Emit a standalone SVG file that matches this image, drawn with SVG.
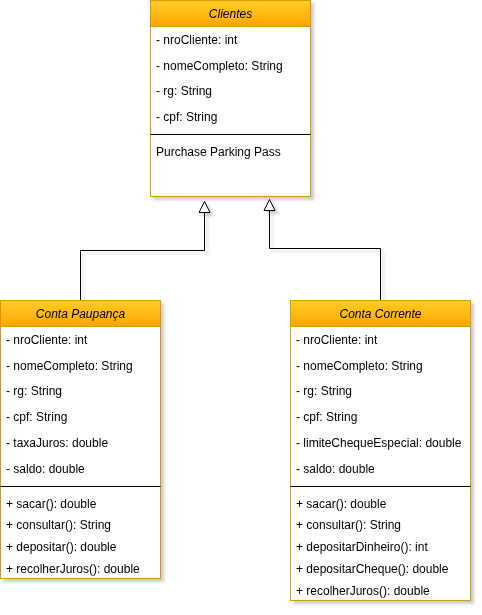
<svg xmlns="http://www.w3.org/2000/svg" width="482" height="615" viewBox="0 0 482 615">
<defs>
<linearGradient id="hdr" x1="0" y1="0" x2="0" y2="1">
<stop offset="0" stop-color="#ffcd28"/>
<stop offset="1" stop-color="#ffa500"/>
</linearGradient>
<filter id="sh" x="-10%" y="-10%" width="130%" height="130%">
<feGaussianBlur in="SourceAlpha" stdDeviation="1.5"/>
<feOffset dx="3" dy="3" result="b"/>
<feComponentTransfer><feFuncA type="linear" slope="0.2"/></feComponentTransfer>
<feMerge><feMergeNode/><feMergeNode in="SourceGraphic"/></feMerge>
</filter>
<marker id="tri" markerWidth="14" markerHeight="14" refX="1" refY="6" orient="auto" markerUnits="userSpaceOnUse">
<path d="M1,6 L11,0.5 L11,11.5 Z" fill="#ffffff" stroke="#000000" stroke-width="1"/>
</marker>
</defs>
<style>
.box{fill:#ffffff;stroke:#d79b00;stroke-width:1}
.head{fill:url(#hdr);stroke:#d79b00;stroke-width:1}
.div{stroke:#000000;stroke-width:1}
text{font-family:"Liberation Sans",Arial,sans-serif;font-size:12px;fill:#000000}
.title{font-style:italic;text-anchor:middle}
.conn{fill:none;stroke:#000000;stroke-width:1}
</style>
<rect width="482" height="615" fill="#ffffff"/>
<g id="connectors" filter="url(#sh)">
<path class="conn" d="M80.5,300 V250.5 H204.5 V212" />
<path d="M204.5,201.5 L199,212.5 L210,212.5 Z" fill="#ffffff" stroke="#000000" stroke-width="1"/>
<path class="conn" d="M380.5,300 V248.5 H269.5 V210" />
<path d="M269.5,199.5 L264,210.5 L275,210.5 Z" fill="#ffffff" stroke="#000000" stroke-width="1"/>
</g>
<g id="clientes" filter="url(#sh)">
<rect class="box" x="150.5" y="0.5" width="160" height="196"/>
<rect class="head" x="150.5" y="0.5" width="160" height="26"/>
<text class="title" x="230.5" y="18">Clientes</text>
<text x="156" y="44">- nroCliente: int</text>
<text x="156" y="70">- nomeCompleto: String</text>
<text x="156" y="95">- rg: String</text>
<text x="156" y="121">- cpf: String</text>
<line class="div" x1="150.5" y1="134.5" x2="310.5" y2="134.5"/>
<text x="156" y="156">Purchase Parking Pass</text>
</g>
<g id="conta-paupanca" filter="url(#sh)">
<rect class="box" x="0.5" y="300.5" width="160" height="278"/>
<rect class="head" x="0.5" y="300.5" width="160" height="26"/>
<text class="title" x="80.5" y="318">Conta Paupança</text>
<text x="6" y="344">- nroCliente: int</text>
<text x="6" y="370">- nomeCompleto: String</text>
<text x="6" y="395">- rg: String</text>
<text x="6" y="421">- cpf: String</text>
<text x="6" y="447">- taxaJuros: double</text>
<text x="6" y="473">- saldo: double</text>
<line class="div" x1="0.5" y1="486.5" x2="160.5" y2="486.5"/>
<text x="6" y="508">+ sacar(): double</text>
<text x="6" y="529">+ consultar(): String</text>
<text x="6" y="551">+ depositar(): double</text>
<text x="6" y="573">+ recolherJuros(): double</text>
</g>
<g id="conta-corrente" filter="url(#sh)">
<rect class="box" x="290.5" y="300.5" width="180" height="300"/>
<rect class="head" x="290.5" y="300.5" width="180" height="26"/>
<text class="title" x="380.5" y="318">Conta Corrente</text>
<text x="296" y="344">- nroCliente: int</text>
<text x="296" y="370">- nomeCompleto: String</text>
<text x="296" y="395">- rg: String</text>
<text x="296" y="421">- cpf: String</text>
<text x="296" y="447">- limiteChequeEspecial: double</text>
<text x="296" y="473">- saldo: double</text>
<line class="div" x1="290.5" y1="486.5" x2="470.5" y2="486.5"/>
<text x="296" y="508">+ sacar(): double</text>
<text x="296" y="529">+ consultar(): String</text>
<text x="296" y="551">+ depositarDinheiro(): int</text>
<text x="296" y="573">+ depositarCheque(): double</text>
<text x="296" y="595">+ recolherJuros(): double</text>
</g>
</svg>
